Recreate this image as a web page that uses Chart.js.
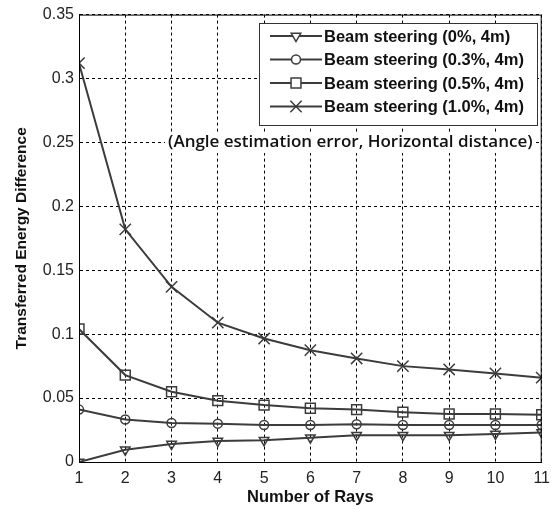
<!DOCTYPE html>
<html>
<head>
<meta charset="utf-8">
<script src="https://cdn.jsdelivr.net/npm/chart.js@4.4.1/dist/chart.umd.min.js"></script>
<style>
  html, body { margin: 0; padding: 0; background: #fff; }
  canvas { display: block; }
</style>
</head>
<body>
<canvas id="graficoRayos" width="557" height="510"></canvas>
<script>
// Datos
const rayos = [1, 2, 3, 4, 5, 6, 7, 8, 9, 10, 11];
const error0 = [0.000, 0.0095, 0.014, 0.0165, 0.017, 0.019, 0.021, 0.021, 0.021, 0.022, 0.023];
const error03 = [0.041, 0.0333, 0.0305, 0.030, 0.029, 0.029, 0.0295, 0.029, 0.029, 0.029, 0.029];
const error05 = [0.104, 0.068, 0.055, 0.048, 0.0445, 0.042, 0.041, 0.039, 0.0375, 0.0375, 0.037];
const error10 = [0.312, 0.182, 0.137, 0.109, 0.0966, 0.0875, 0.081, 0.075, 0.0724, 0.0693, 0.066];
const etiquetas = [
  'Beam steering (0%, 4m)',
  'Beam steering (0.3%, 4m)',
  'Beam steering (0.5%, 4m)',
  'Beam steering (1.0%, 4m)'
];
const yTicks = [0, 0.05, 0.1, 0.15, 0.2, 0.25, 0.3, 0.35];
const nota = '(Angle estimation error, Horizontal distance)';

const gris = '#3c3c3c';

function serie(label, valores, estilo, radio, rot) {
  return {
    label: label,
    data: rayos.map((x, i) => ({ x: x, y: valores[i] })),
    borderColor: gris,
    borderWidth: 2,
    pointStyle: estilo,
    pointRadius: radio,
    pointRotation: rot || 0,
    pointBorderColor: gris,
    pointBackgroundColor: 'rgba(0,0,0,0)',
    pointBorderWidth: 1.5,
    tension: 0
  };
}

// Caja de leyenda y texto anotado, al estilo MATLAB
const leyendaCaja = {
  id: 'leyendaCaja',
  afterDatasetsDraw(chart) {
    const ctx = chart.ctx;
    const a = chart.chartArea;
    ctx.save();
    // marco completo del area
    ctx.strokeStyle = '#000';
    ctx.lineWidth = 1;
    ctx.setLineDash([]);
    ctx.strokeRect(a.left + 0.5, a.top + 0.5, a.right - a.left - 1, a.bottom - a.top);

    // texto anotado con fondo blanco
    ctx.font = '600 17px "Open Sans", sans-serif';
    const w = ctx.measureText(nota).width;
    ctx.fillStyle = '#fff';
    ctx.fillRect(165, 132, w + 6, 21);
    ctx.fillStyle = '#111';
    ctx.textAlign = 'left';
    ctx.textBaseline = 'middle';
    ctx.fillText(nota, 168, 142);

    const bx = 259, by = 23, bw = 278, bh = 102;
    ctx.fillStyle = '#fff';
    ctx.fillRect(bx, by, bw, bh);
    ctx.strokeStyle = '#333';
    ctx.strokeRect(bx + 0.5, by + 0.5, bw, bh);

    chart.data.datasets.forEach((ds, i) => {
      const y = 36 + i * 23.5;
      ctx.strokeStyle = gris;
      ctx.lineWidth = 2;
      ctx.beginPath();
      ctx.moveTo(270, y);
      ctx.lineTo(322, y);
      ctx.stroke();
      ctx.lineWidth = 1.5;
      ctx.fillStyle = '#fff';
      Chart.helpers.drawPoint(ctx, {
        pointStyle: ds.pointStyle,
        radius: ds.pointRadius,
        rotation: ds.pointRotation,
        borderWidth: 1.5
      }, 296, y);
      ctx.fillStyle = '#111';
      ctx.font = 'bold 16.5px "Liberation Sans", Arial, sans-serif';
      ctx.textBaseline = 'middle';
      ctx.textAlign = 'left';
      ctx.fillText(ds.label, 324, y + 1);
    });
    ctx.restore();
  }
};

const ctx = document.getElementById('graficoRayos').getContext('2d');
const grafico = new Chart(ctx, {
  type: 'line',
  data: {
    datasets: [
      serie(etiquetas[0], error0, 'triangle', 5.5, 180),
      serie(etiquetas[1], error03, 'circle', 4.5),
      serie(etiquetas[2], error05, 'rect', 7),
      serie(etiquetas[3], error10, 'crossRot', 8)
    ]
  },
  options: {
    responsive: false,
    animation: false,
    devicePixelRatio: 1,
    layout: { padding: { left: 0, right: 12, top: 14, bottom: 0 } },
    plugins: {
      legend: { display: false },
      tooltip: { enabled: false }
    },
    scales: {
      x: {
        type: 'linear',
        min: 1,
        max: 11,
        afterFit: s => { s.height = 48; },
        ticks: {
          stepSize: 1,
          color: '#222',
          padding: 7,
          font: { family: '"Liberation Sans", Arial, sans-serif', size: 16 }
        },
        grid: { color: '#000', lineWidth: 1, drawTicks: false },
        border: { color: '#000', width: 1, dash: [3, 3] },
        title: {
          display: true,
          text: 'Number of Rays',
          color: '#111',
          padding: { top: 0, bottom: 3 },
          font: { family: '"Liberation Sans", Arial, sans-serif', size: 16.5, weight: 'bold' }
        }
      },
      y: {
        type: 'linear',
        min: 0,
        max: 0.35,
        afterFit: s => { s.width = 79; },
        afterBuildTicks: s => { s.ticks = yTicks.map(v => ({ value: v })); },
        ticks: {
          color: '#222',
          padding: 5,
          font: { family: '"Liberation Sans", Arial, sans-serif', size: 16 },
          callback: v => String(+v.toFixed(2))
        },
        grid: { color: '#000', lineWidth: 1, drawTicks: false },
        border: { color: '#000', width: 1, dash: [3, 3] },
        title: {
          display: true,
          text: 'Transferred Energy Difference',
          color: '#111',
          padding: { top: 12, bottom: 0 },
          font: { family: '"Liberation Sans", Arial, sans-serif', size: 15.5, weight: 'bold' }
        }
      }
    }
  },
  plugins: [leyendaCaja]
});
</script>
</body>
</html>
